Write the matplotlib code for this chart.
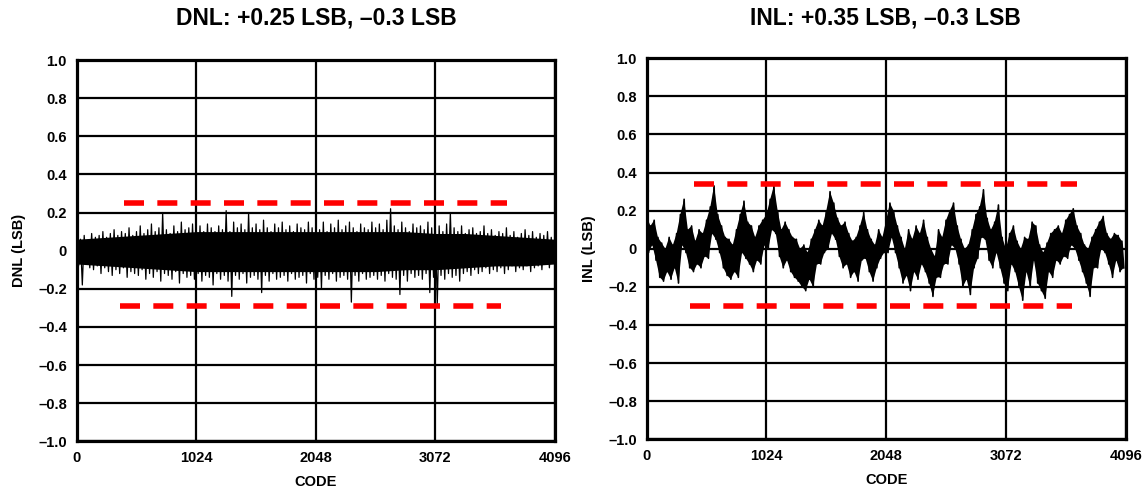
import numpy as np
import matplotlib.pyplot as plt

plt.rcParams['font.family'] = ['Liberation Sans', 'DejaVu Sans']
plt.rcParams['font.weight'] = 'bold'

code_ticks = [0, 1024, 2048, 3072, 4096]
code_labels = ['0', '1024', '2048', '3072', '4096']
lsb_ticks = [-1.0, -0.8, -0.6, -0.4, -0.2, 0.0, 0.2, 0.4, 0.6, 0.8, 1.0]
lsb_labels = ['\u20131.0', '\u20130.8', '\u20130.6', '\u20130.4', '\u20130.2', '0',
              '0.2', '0.4', '0.6', '0.8', '1.0']

# DNL: upper spike tips (codes 0, 32, ...) and lower tips (codes 16, 48, ...)
dnl_hi = [0.07, 0.06, 0.08, 0.05, 0.09, 0.07, 0.08, 0.10, 0.07, 0.09, 0.11, 0.08, 0.10, 0.09, 0.12, 0.08,
          0.10, 0.13, 0.09, 0.11, 0.14, 0.10, 0.12, 0.20, 0.11, 0.09, 0.13, 0.10, 0.15, 0.11, 0.12, 0.14,
          0.11, 0.13, 0.10, 0.14, 0.12, 0.10, 0.13, 0.11, 0.21, 0.10, 0.15, 0.12, 0.14, 0.11, 0.20, 0.12,
          0.14, 0.11, 0.16, 0.12, 0.10, 0.14, 0.12, 0.15, 0.11, 0.13, 0.10, 0.14, 0.12, 0.11, 0.15, 0.12,
          0.13, 0.11, 0.15, 0.10, 0.14, 0.12, 0.16, 0.11, 0.13, 0.15, 0.12, 0.10, 0.14, 0.12, 0.11, 0.15,
          0.12, 0.14, 0.11, 0.16, 0.22, 0.13, 0.11, 0.15, 0.12, 0.10, 0.14, 0.12, 0.13, 0.11, 0.15, 0.12,
          0.11, 0.13, 0.10, 0.14, 0.20, 0.12, 0.10, 0.13, 0.09, 0.11, 0.12, 0.09, 0.10, 0.13, 0.09, 0.11,
          0.08, 0.10, 0.09, 0.12, 0.08, 0.10, 0.07, 0.09, 0.11, 0.08, 0.10, 0.07, 0.09, 0.08, 0.10, 0.07]
dnl_lo = [-0.08, -0.18, -0.07, -0.09, -0.10, -0.08, -0.12, -0.09, -0.11, -0.13, -0.10, -0.12, -0.09, -0.14, -0.11, -0.12,
          -0.13, -0.10, -0.15, -0.12, -0.14, -0.11, -0.16, -0.12, -0.13, -0.15, -0.11, -0.17, -0.12, -0.14, -0.13, -0.15,
          -0.12, -0.16, -0.13, -0.14, -0.18, -0.12, -0.15, -0.13, -0.16, -0.24, -0.13, -0.15, -0.12, -0.17, -0.14, -0.13,
          -0.15, -0.22, -0.13, -0.16, -0.12, -0.15, -0.14, -0.13, -0.16, -0.12, -0.15, -0.14, -0.13, -0.17, -0.12, -0.15,
          -0.14, -0.20, -0.13, -0.15, -0.12, -0.16, -0.14, -0.13, -0.15, -0.27, -0.13, -0.16, -0.12, -0.15, -0.14, -0.13,
          -0.15, -0.13, -0.16, -0.12, -0.14, -0.15, -0.23, -0.13, -0.16, -0.12, -0.14, -0.13, -0.15, -0.12, -0.22, -0.14,
          -0.28, -0.13, -0.15, -0.12, -0.14, -0.13, -0.16, -0.12, -0.11, -0.13, -0.10, -0.12, -0.11, -0.09, -0.12, -0.10,
          -0.11, -0.09, -0.12, -0.10, -0.08, -0.11, -0.09, -0.10, -0.08, -0.11, -0.09, -0.08, -0.10, -0.07, -0.09, -0.06]
dnl_hi_codes = np.arange(0, 4096, 32)
dnl_lo_codes = dnl_hi_codes + 16

# DNL solid core band (every 256 codes)
dnl_core_codes = np.arange(0, 4097, 256)
dnl_core_hi = [0.06, 0.07, 0.08, 0.09, 0.10, 0.10, 0.10, 0.10, 0.10, 0.10, 0.10, 0.10, 0.09, 0.09, 0.08, 0.07, 0.06]
dnl_core_lo = [-0.07, -0.08, -0.09, -0.10, -0.11, -0.11, -0.11, -0.11, -0.11, -0.11, -0.11, -0.10, -0.10, -0.09, -0.08, -0.08, -0.07]

# INL: upper points (codes 0, 32, ...) and lower points (codes 16, 48, ...)
inl_hi = [0.17, 0.12, 0.15, 0.06, 0.03, 0.00, 0.06, 0.02, 0.08, 0.18, 0.26, 0.10, 0.12, 0.04, 0.10, 0.08,
          0.15, 0.22, 0.33, 0.18, 0.12, 0.06, 0.05, 0.02, 0.10, 0.18, 0.25, 0.14, 0.12, 0.06, 0.12, 0.15,
          0.18, 0.26, 0.33, 0.20, 0.10, 0.14, 0.10, 0.06, 0.05, 0.00, 0.02, -0.02, 0.05, 0.10, 0.15, 0.12,
          0.20, 0.30, 0.24, 0.16, 0.12, 0.14, 0.08, 0.04, 0.06, 0.12, 0.19, 0.10, 0.05, 0.02, 0.10, 0.06,
          0.15, 0.24, 0.20, 0.12, 0.06, 0.00, 0.10, 0.05, 0.12, 0.08, 0.15, 0.06, 0.00, -0.04, 0.10, 0.06,
          0.15, 0.20, 0.24, 0.12, 0.05, 0.00, 0.02, 0.10, 0.18, 0.22, 0.31, 0.16, 0.10, 0.14, 0.23, 0.06,
          0.00, 0.08, 0.12, 0.04, 0.00, 0.06, 0.05, 0.14, 0.12, 0.02, -0.02, 0.03, 0.08, 0.10, 0.12, 0.08,
          0.15, 0.18, 0.21, 0.12, 0.08, 0.02, 0.00, 0.06, 0.10, 0.14, 0.17, 0.08, 0.05, 0.08, 0.07, 0.04]
inl_lo = [-0.02, 0.02, -0.06, -0.15, -0.17, -0.12, -0.16, -0.10, -0.18, 0.02, -0.02, -0.10, -0.12, -0.08, -0.10, -0.04,
          -0.05, 0.08, 0.05, -0.02, -0.10, -0.14, -0.16, -0.12, -0.15, -0.02, -0.05, -0.08, -0.12, -0.06, -0.08, 0.02,
          0.00, 0.10, 0.08, -0.04, -0.10, -0.06, -0.12, -0.15, -0.17, -0.20, -0.22, -0.16, -0.20, -0.08, -0.08, -0.02,
          0.00, 0.08, 0.05, -0.04, -0.10, -0.08, -0.15, -0.12, -0.17, -0.06, -0.05, -0.12, -0.17, -0.10, -0.05, -0.02,
          -0.02, 0.06, -0.02, -0.10, -0.18, -0.14, -0.22, -0.12, -0.16, -0.08, -0.12, -0.18, -0.25, -0.15, -0.15, -0.08,
          -0.08, 0.02, 0.00, -0.08, -0.20, -0.16, -0.24, -0.10, -0.05, 0.06, 0.05, -0.06, -0.10, -0.02, -0.10, -0.18,
          -0.22, -0.08, -0.12, -0.20, -0.27, -0.12, -0.20, -0.06, -0.18, -0.22, -0.26, -0.12, -0.15, -0.06, -0.08, -0.04,
          -0.05, 0.02, 0.00, -0.06, -0.12, -0.18, -0.25, -0.10, -0.10, 0.00, -0.02, -0.08, -0.15, -0.06, -0.12, -0.10]
inl_hi_codes = np.arange(0, 4096, 32)
inl_lo_codes = inl_hi_codes + 16

# red limit lines: (value, first code, last code)
dnl_limits = [(0.25, 402, 3688), (-0.29, 368, 3634)]
inl_limits = [(0.34, 404, 3682), (-0.30, 368, 3640)]

fig = plt.figure(figsize=(11.45, 4.91), dpi=100)
ax1 = fig.add_axes([0.0670, 0.1012, 0.4177, 0.7766])
ax2 = fig.add_axes([0.5648, 0.1053, 0.4183, 0.7760])


def style(ax, ylabel):
    ax.set_xlim(0, 4096)
    ax.set_ylim(-1, 1)
    ax.set_xticks(code_ticks)
    ax.set_xticklabels(code_labels)
    ax.set_yticks(lsb_ticks)
    ax.set_yticklabels(lsb_labels)
    ax.tick_params(length=0, pad=7, labelsize=10.5)
    ax.grid(True, color='black', linewidth=1.6)
    ax.set_axisbelow(True)
    for s in ax.spines.values():
        s.set_linewidth(2.3)
    ax.set_xlabel('CODE', fontsize=10.5, fontweight='bold', labelpad=7)
    ax.set_ylabel(ylabel, fontsize=10.5, fontweight='bold', labelpad=9)


def zigzag(hi_codes, hi, lo_codes, lo):
    x = np.column_stack((hi_codes, lo_codes)).ravel()
    y = np.column_stack((hi, lo)).ravel()
    return x, y


# DNL
ax1.fill_between(dnl_core_codes, dnl_core_lo, dnl_core_hi, color='black', lw=0, zorder=3)
x, y = zigzag(dnl_hi_codes, dnl_hi, dnl_lo_codes, dnl_lo)
ax1.plot(x, y, color='black', lw=0.9, zorder=3)
for val, c0, c1 in dnl_limits:
    ax1.plot([c0, c1], [val, val], color='#ff0000', lw=4, dashes=(3.6, 2.4), dash_capstyle='butt', zorder=4)
style(ax1, 'DNL (LSB)')

# INL: band between upper and lower points, plus the jagged trace
ax2.fill(np.concatenate([inl_hi_codes, inl_lo_codes[::-1]]),
         np.concatenate([inl_hi, inl_lo[::-1]]), color='black', lw=0, zorder=3)
x, y = zigzag(inl_hi_codes, inl_hi, inl_lo_codes, inl_lo)
ax2.plot(x, y, color='black', lw=1.2, zorder=3)
for val, c0, c1 in inl_limits:
    ax2.plot([c0, c1], [val, val], color='#ff0000', lw=4, dashes=(3.6, 2.4), dash_capstyle='butt', zorder=4)
style(ax2, 'INL (LSB)')

fig.text(0.276, 0.963, 'DNL: +0.25 LSB, \u20130.3 LSB', ha='center', va='center', fontsize=16.5, fontweight='bold')
fig.text(0.773, 0.963, 'INL: +0.35 LSB, \u20130.3 LSB', ha='center', va='center', fontsize=16.5, fontweight='bold')

fig.savefig('out.png', dpi=100)
